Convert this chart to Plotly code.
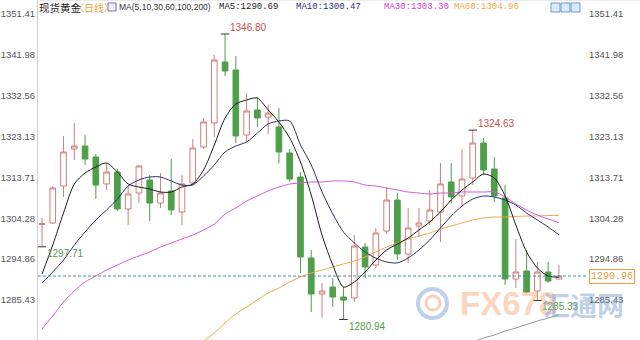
import plotly.graph_objects as go

# ---------------- data ----------------
idx = list(range(49))
opens = [1302.85, 1303.20, 1311.73, 1320.27, 1320.96, 1318.42, 1312.20, 1314.96, 1306.43, 1310.12,
         1313.12, 1307.81, 1310.58, 1305.73, 1312.43, 1320.73, 1326.27, 1340.34, 1338.49, 1323.50,
         1329.27, 1327.65, 1325.34, 1319.35, 1313.81, 1295.13, 1286.82, 1288.43, 1286.13, 1285.90,
         1297.66, 1293.51, 1301.35, 1308.50, 1296.05, 1302.51, 1303.66, 1305.73, 1312.66, 1309.43,
         1313.58, 1321.65, 1315.66, 1308.97, 1290.28, 1292.13, 1287.51, 1291.89, 1290.28]
highs = [1304.35, 1311.73, 1323.27, 1326.27, 1323.50, 1319.12, 1317.04, 1315.66, 1311.96, 1316.58,
         1314.27, 1314.73, 1317.96, 1314.27, 1322.57, 1327.42, 1341.95, 1346.80, 1341.72, 1333.19,
         1332.26, 1330.42, 1329.73, 1320.27, 1314.96, 1296.97, 1289.36, 1290.51, 1288.43, 1300.43,
         1298.59, 1302.05, 1311.50, 1310.12, 1306.66, 1306.66, 1310.81, 1317.04, 1317.04, 1320.27,
         1324.63, 1322.81, 1318.42, 1311.96, 1299.51, 1296.97, 1294.20, 1294.20, 1293.51]
lows = [1297.71, 1302.97, 1309.20, 1317.73, 1316.58, 1308.73, 1310.81, 1305.97, 1302.74, 1307.81,
        1303.66, 1306.66, 1305.04, 1302.74, 1312.20, 1320.27, 1323.04, 1337.11, 1321.65, 1321.88,
        1325.34, 1323.73, 1317.04, 1312.66, 1291.67, 1282.66, 1281.28, 1283.82, 1280.94, 1284.97,
        1290.51, 1292.82, 1300.66, 1294.66, 1293.97, 1299.97, 1302.74, 1298.82, 1307.81, 1306.89,
        1311.96, 1314.27, 1308.04, 1288.90, 1288.20, 1287.05, 1285.33, 1289.36, 1290.28]
closes = [1303.05, 1311.27, 1319.57, 1320.96, 1317.96, 1311.96, 1314.96, 1306.43, 1309.89, 1316.35,
          1307.81, 1310.12, 1306.20, 1312.20, 1320.50, 1326.50, 1340.80, 1338.26, 1323.27, 1329.04,
          1327.42, 1328.57, 1319.58, 1313.35, 1295.36, 1286.82, 1287.51, 1286.13, 1285.43, 1297.89,
          1293.05, 1300.89, 1308.50, 1296.05, 1302.05, 1303.20, 1306.20, 1312.20, 1309.20, 1313.35,
          1321.65, 1315.43, 1309.43, 1290.28, 1291.89, 1287.28, 1291.89, 1289.82, 1290.96]

ma5 = [1291.43, 1298.12, 1305.51, 1312.19, 1314.73, 1316.12, 1317.04, 1314.96, 1312.19, 1311.50,
       1311.04, 1310.35, 1310.35, 1311.50, 1312.19, 1315.42, 1321.19, 1327.42, 1330.65, 1331.57,
       1332.03, 1329.27, 1326.50, 1322.81, 1317.27, 1309.66, 1300.43, 1293.51, 1288.43, 1289.59,
       1291.90, 1294.66, 1296.97, 1298.35, 1299.74, 1301.58, 1303.43, 1305.74, 1308.50, 1310.81,
       1312.66, 1314.50, 1313.58, 1309.43, 1302.74, 1296.51, 1292.82, 1290.97, 1290.69]
ma10 = [1289.36, 1291.90, 1294.66, 1298.12, 1301.12, 1303.89, 1306.20, 1308.73, 1311.73, 1313.12,
        1313.81, 1313.81, 1312.89, 1311.96, 1311.96, 1314.04, 1316.58, 1319.58, 1320.96, 1321.88,
        1323.96, 1326.04, 1326.73, 1326.73, 1321.20, 1316.60, 1310.40, 1305.30, 1301.10, 1298.60,
        1296.50, 1295.10, 1294.20, 1294.00, 1295.12, 1296.97, 1299.28, 1302.04, 1304.81, 1307.12,
        1308.73, 1309.43, 1309.20, 1308.50, 1307.35, 1305.51, 1303.89, 1302.28, 1300.47]
ma30 = [1278.75, 1281.75, 1284.97, 1287.51, 1289.59, 1290.97, 1292.36, 1293.51, 1294.66, 1295.59,
        1296.51, 1297.66, 1298.58, 1299.51, 1300.43, 1301.58, 1302.97, 1305.27, 1306.66, 1308.27,
        1309.43, 1310.58, 1311.50, 1312.19, 1312.43, 1312.66, 1312.66, 1312.89, 1312.89, 1312.66,
        1311.96, 1311.73, 1311.27, 1310.81, 1310.35, 1310.12, 1309.89, 1310.12, 1310.12, 1310.35,
        1310.35, 1310.35, 1310.35, 1309.20, 1307.58, 1306.20, 1305.04, 1304.12, 1303.30]
ma60 = [None] * 15 + [1275.98, 1277.82, 1280.13, 1282.21, 1283.82, 1285.44, 1287.05, 1288.20, 1289.59,
                      1290.74, 1291.66, 1292.36, 1293.05, 1293.74, 1294.43, 1295.36, 1296.51, 1297.66,
                      1298.58, 1299.51, 1300.20, 1300.89, 1301.81, 1302.51, 1303.20, 1303.89, 1304.35,
                      1304.58, 1304.58, 1304.70, 1304.81, 1304.81, 1304.93, 1304.96]
ma100 = [None] * 40 + [1275.75, 1276.67, 1277.36, 1278.28, 1278.98, 1279.78, 1280.59, 1281.28, 1281.98]

tick_vals = [1351.41, 1341.98, 1332.56, 1323.13, 1313.71, 1304.28, 1294.86, 1285.43]
tick_text = ["1351.41", "1341.98", "1332.56", "1323.13", "1313.71", "1304.28", "1294.86", "1285.43"]

title_name = "现货黄金"
title_period = "〈日线〉"
ma_params = "MA(5,10,30,60,100,200)"
ma_labels = ["MA5:1290.69", "MA10:1300.47", "MA30:1303.30", "MA60:1304.96"]

high_marks = [17, 40]
low_marks = [0, 28, 46]

# ---------------- styling ----------------
UP = "#cf7f78"
DOWN = "#4e9e4a"
C_MA5 = "#1c1c1c"
C_MA10 = "#2e2f70"
C_MA30 = "#d55ad5"
C_MA60 = "#f0a848"
C_MA100 = "#8f8faa"
TICKFONT = dict(family="Liberation Sans, Arial", size=9.5, color="#555555")

fig = go.Figure()
fig.add_trace(go.Candlestick(
    x=idx, open=opens, high=highs, low=lows, close=closes,
    increasing=dict(line=dict(color=UP, width=1), fillcolor="#ffffff"),
    decreasing=dict(line=dict(color=DOWN, width=1), fillcolor=DOWN),
    whiskerwidth=0, showlegend=False, hoverinfo="skip"))

for vals, col in [(ma100, C_MA100), (ma60, C_MA60), (ma30, C_MA30), (ma10, C_MA10), (ma5, C_MA5)]:
    fig.add_trace(go.Scatter(x=idx, y=vals, mode="lines",
                             line=dict(color=col, width=1, shape="spline", smoothing=0.8),
                             showlegend=False, hoverinfo="skip", connectgaps=False))

# small tick markers at extreme points
fig.add_trace(go.Scatter(
    x=[i for i in high_marks] + [i for i in low_marks],
    y=[highs[i] for i in high_marks] + [lows[i] for i in low_marks],
    mode="markers", marker=dict(symbol="line-ew", size=6, line=dict(color="#333333", width=1)),
    showlegend=False, hoverinfo="skip"))

# invisible trace on right axis
fig.add_trace(go.Scatter(x=[idx[-1]], y=[closes[-1]], yaxis="y2", mode="markers",
                         marker=dict(opacity=0), showlegend=False, hoverinfo="skip"))

annotations = []
for i in high_marks:
    annotations.append(dict(x=i, y=highs[i], xref="x", yref="y", text=f"{highs[i]:.2f}",
                            showarrow=False, xanchor="left", yanchor="bottom", xshift=3, yshift=-1,
                            font=dict(family="Liberation Sans, Arial", size=10, color="#c9504a")))
for i in low_marks:
    annotations.append(dict(x=i, y=lows[i], xref="x", yref="y", text=f"{lows[i]:.2f}",
                            showarrow=False, xanchor="left", yanchor="top", xshift=3, yshift=1,
                            font=dict(family="Liberation Sans, Arial", size=10, color="#5b9b50")))

# title row
PW = 550.0
def px(xp):
    return (xp - 38) / PW
TY = 1 - 7 / 340.0
annotations += [
    dict(x=px(37), y=TY, text=title_name, font=dict(family="Noto Sans CJK SC", size=10.5, color="#222")),
    dict(x=px(72), y=TY, text=title_period, font=dict(family="Noto Sans CJK SC", size=10, color="#f0a040")),
    dict(x=px(117), y=TY, text=ma_params, font=dict(family="Liberation Sans, Arial", size=8.5, color="#333")),
    dict(x=px(217), y=TY, text=ma_labels[0], font=dict(family="Liberation Mono", size=9, color="#222")),
    dict(x=px(294), y=TY, text=ma_labels[1], font=dict(family="Liberation Mono", size=9, color=C_MA10)),
    dict(x=px(382), y=TY, text=ma_labels[2], font=dict(family="Liberation Mono", size=9, color="#d040d0")),
    dict(x=px(452), y=TY, text=ma_labels[3], font=dict(family="Liberation Mono", size=9, color=C_MA60)),
]
for a in annotations[-7:]:
    a.update(xref="paper", yref="paper", xanchor="left", yanchor="middle", showarrow=False)

# last price tag
annotations.append(dict(x=1.0, y=closes[-1], xref="paper", yref="y", text=f"{closes[-1]:.2f}",
                        showarrow=False, xanchor="left", yanchor="middle", xshift=1,
                        bordercolor="#f0a040", borderwidth=1, borderpad=1, bgcolor="#ffffff",
                        font=dict(family="Liberation Mono", size=10, color="#e8a040")))

# watermark
annotations += [
    dict(x=px(458), y=1 - 303 / 340.0, xref="paper", yref="paper", text="<b>FX678</b>", showarrow=False,
         xanchor="left", yanchor="middle",
         font=dict(family="Liberation Sans Narrow, Liberation Sans", size=33, color="rgba(244,160,110,0.45)")),
    dict(x=px(541), y=1 - 304 / 340.0, xref="paper", yref="paper", text="<b>汇通网</b>", showarrow=False,
         xanchor="left", yanchor="middle",
         font=dict(family="Noto Sans CJK SC", size=27, color="rgba(110,150,205,0.45)")),
]

shapes = [
    # current price dashed line
    dict(type="line", xref="paper", yref="y", x0=0, x1=1, y0=closes[-1], y1=closes[-1],
         line=dict(color="#3f8fae", width=1, dash="3px,2px")),
    # top border
    dict(type="line", xref="paper", yref="paper", x0=0, x1=(640 - 38) / PW, y0=1, y1=1,
         line=dict(color="#d8d8d8", width=1)),
    # icon box in title
    dict(type="rect", xref="paper", yref="paper", x0=px(108), x1=px(116), y0=1 - 11 / 340, y1=1 - 3 / 340,
         line=dict(color="#7070b8", width=1), fillcolor="#eeeeff"),
    # logo watermark
    dict(type="circle", xref="paper", yref="paper", x0=px(418), x1=px(447), y0=1 - 318 / 340, y1=1 - 289 / 340,
         line=dict(color="rgba(110,150,210,0.45)", width=4)),
    dict(type="circle", xref="paper", yref="paper", x0=px(426), x1=px(440), y0=1 - 310 / 340, y1=1 - 296 / 340,
         line=dict(color="rgba(244,160,110,0.5)", width=3)),
]
# buttons top-right
for bx in [551, 561, 571]:
    shapes.append(dict(type="rect", xref="paper", yref="paper", x0=px(bx), x1=px(bx + 9),
                       y0=1 - 12 / 340, y1=1 - 3 / 340, line=dict(color="#6f9bd0", width=1),
                       fillcolor="#dce9f7"))

yr = [1276.21, 1354.64]
fig.update_layout(
    width=640, height=340, margin=dict(l=38, r=52, t=0, b=0),
    paper_bgcolor="#ffffff", plot_bgcolor="#ffffff",
    xaxis=dict(range=[-0.371, 50.70], showgrid=False, zeroline=False, showticklabels=False,
               rangeslider=dict(visible=False), showline=False, fixedrange=True),
    yaxis=dict(range=yr, tickvals=tick_vals, ticktext=tick_text, showgrid=False, zeroline=False,
               showline=True, linecolor="#d0d0d0", linewidth=1, ticks="", tickfont=TICKFONT),
    yaxis2=dict(range=yr, overlaying="y", side="right", tickvals=tick_vals, ticktext=tick_text,
                showgrid=False, zeroline=False, showline=False, ticks="", tickfont=TICKFONT),
    annotations=annotations, shapes=shapes, boxgap=0.25, showlegend=False,
)

fig.write_html("out.html")
